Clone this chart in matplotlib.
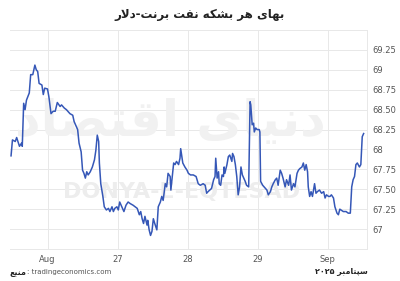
import matplotlib
matplotlib.use('Agg')
import matplotlib.pyplot as plt

# trading days: 0 = Aug 26, 1 = 27, 2 = 28, 3 = 29, 4 = Sep 1
days = [-0.52, -0.50, -0.46, -0.44, -0.40, -0.37, -0.36, -0.34, -0.32, -0.30,
        -0.26, -0.24, -0.21, -0.18, -0.16, -0.14, -0.12, -0.08, -0.06, -0.04,
        0.00, 0.02, 0.05, 0.08, 0.11, 0.14, 0.18, 0.20, 0.24, 0.27,
        0.32, 0.36, 0.38, 0.41, 0.43, 0.45, 0.48, 0.50, 0.52, 0.54,
        0.56, 0.58, 0.61, 0.64, 0.67, 0.69, 0.71, 0.73, 0.74, 0.76,
        0.79, 0.81, 0.84, 0.87, 0.89, 0.92, 0.94, 0.96, 0.99, 1.01,
        1.03, 1.06, 1.09, 1.12, 1.15, 1.18, 1.22, 1.25, 1.28, 1.31,
        1.33, 1.35, 1.37, 1.39, 1.42, 1.43, 1.45, 1.47, 1.49, 1.51,
        1.53, 1.56, 1.58, 1.61, 1.63, 1.65, 1.68, 1.70, 1.72, 1.75,
        1.76, 1.78, 1.80, 1.82, 1.84, 1.87, 1.89, 1.90, 1.93, 1.96,
        1.99, 2.01, 2.04, 2.08, 2.12, 2.15, 2.18, 2.22, 2.25, 2.27,
        2.29, 2.34, 2.37, 2.39, 2.40, 2.42, 2.44, 2.45, 2.47, 2.49,
        2.51, 2.52, 2.53, 2.56, 2.58, 2.60, 2.63, 2.64, 2.66, 2.68,
        2.70, 2.72, 2.74, 2.76, 2.78, 2.80, 2.82, 2.84, 2.87, 2.89,
        2.90, 2.92, 2.94, 2.95, 2.97, 2.99, 3.02, 3.03, 3.04, 3.07,
        3.09, 3.13, 3.15, 3.18, 3.20, 3.22, 3.25, 3.27, 3.29, 3.32,
        3.34, 3.36, 3.39, 3.41, 3.44, 3.46, 3.48, 3.51, 3.53, 3.56,
        3.58, 3.60, 3.63, 3.65, 3.67, 3.69, 3.71, 3.72, 3.74, 3.76,
        3.78, 3.81, 3.83, 3.85, 3.88, 3.91, 3.94, 3.96, 3.98, 4.01,
        4.03, 4.05, 4.08, 4.10, 4.13, 4.15, 4.17, 4.22, 4.26, 4.29,
        4.32, 4.34, 4.36, 4.38, 4.40, 4.42, 4.45, 4.47, 4.49, 4.51]
price = [67.92, 68.12, 68.10, 68.15, 68.04, 68.08, 68.04, 68.58, 68.50, 68.62,
         68.71, 68.94, 68.94, 69.06, 69.00, 68.98, 68.83, 68.81, 68.69, 68.77,
         68.76, 68.66, 68.45, 68.48, 68.48, 68.59, 68.54, 68.56, 68.52, 68.50,
         68.45, 68.43, 68.35, 68.29, 68.25, 68.08, 67.97, 67.74, 67.70, 67.64,
         67.72, 67.68, 67.72, 67.78, 67.87, 67.99, 68.18, 68.10, 67.83, 67.57,
         67.41, 67.28, 67.24, 67.26, 67.22, 67.28, 67.22, 67.26, 67.28, 67.24,
         67.34, 67.28, 67.22, 67.30, 67.34, 67.32, 67.30, 67.28, 67.26, 67.18,
         67.22, 67.13, 67.07, 67.16, 67.05, 67.11, 66.99, 66.92, 66.97, 67.13,
         67.07, 66.99, 67.28, 67.34, 67.41, 67.36, 67.57, 67.53, 67.70, 67.66,
         67.49, 67.66, 67.83, 67.81, 67.85, 67.81, 67.89, 68.01, 67.83, 67.78,
         67.74, 67.70, 67.68, 67.68, 67.66, 67.57, 67.55, 67.57, 67.55, 67.45,
         67.47, 67.51, 67.62, 67.66, 67.89, 67.64, 67.72, 67.57, 67.55, 67.68,
         67.66, 67.78, 67.70, 67.81, 67.91, 67.93, 67.85, 67.95, 67.91, 67.81,
         67.66, 67.43, 67.53, 67.78, 67.68, 67.64, 67.60, 67.55, 67.53, 68.60,
         68.56, 68.31, 68.33, 68.22, 68.27, 68.25, 68.25, 68.22, 67.60, 67.55,
         67.53, 67.49, 67.43, 67.47, 67.53, 67.57, 67.62, 67.64, 67.55, 67.74,
         67.70, 67.64, 67.53, 67.62, 67.55, 67.68, 67.49, 67.57, 67.53, 67.70,
         67.74, 67.76, 67.78, 67.83, 67.74, 67.81, 67.72, 67.53, 67.41, 67.47,
         67.41, 67.57, 67.45, 67.47, 67.49, 67.45, 67.47, 67.39, 67.43, 67.41,
         67.41, 67.43, 67.39, 67.28, 67.20, 67.18, 67.25, 67.22, 67.22, 67.20,
         67.20, 67.53, 67.62, 67.66, 67.81, 67.83, 67.78, 67.81, 68.16, 68.20]

x_ticks = [0, 1, 2, 3, 4]
x_labels = ['Aug', '27', '28', '29', 'Sep']
y_ticks = [67, 67.25, 67.5, 67.75, 68, 68.25, 68.5, 68.75, 69, 69.25]
y_labels = ['67', '67.25', '67.50', '67.75', '68', '68.25', '68.50', '68.75', '69', '69.25']

title_fa = 'بهای هر بشکه نفت برنت-دلار'
month_fa = 'سپتامبر'
year_fa = '۲۰۲۵'
source_fa = 'منبع'
logo_fa = 'دنیای اقتصاد'

# matplotlib has no arabic shaping, so join letters by hand
# (isolated, final, initial, medial)
FORMS = {
    'ا': ('\uFE8D', '\uFE8E', None, None),
    'ب': ('\uFE8F', '\uFE90', '\uFE91', '\uFE92'),
    'پ': ('\uFB56', '\uFB57', '\uFB58', '\uFB59'),
    'ت': ('\uFE95', '\uFE96', '\uFE97', '\uFE98'),
    'د': ('\uFEA9', '\uFEAA', None, None),
    'ر': ('\uFEAD', '\uFEAE', None, None),
    'س': ('\uFEB1', '\uFEB2', '\uFEB3', '\uFEB4'),
    'ش': ('\uFEB5', '\uFEB6', '\uFEB7', '\uFEB8'),
    'ص': ('\uFEB9', '\uFEBA', '\uFEBB', '\uFEBC'),
    'ع': ('\uFEC9', '\uFECA', '\uFECB', '\uFECC'),
    'ف': ('\uFED1', '\uFED2', '\uFED3', '\uFED4'),
    'ق': ('\uFED5', '\uFED6', '\uFED7', '\uFED8'),
    'ک': ('\uFB8E', '\uFB8F', '\uFB90', '\uFB91'),
    'ل': ('\uFEDD', '\uFEDE', '\uFEDF', '\uFEE0'),
    'م': ('\uFEE1', '\uFEE2', '\uFEE3', '\uFEE4'),
    'ن': ('\uFEE5', '\uFEE6', '\uFEE7', '\uFEE8'),
    'ه': ('\uFEE9', '\uFEEA', '\uFEEB', '\uFEEC'),
    'ی': ('\uFBFC', '\uFBFD', '\uFBFE', '\uFBFF'),
}


def fa(text):
    out = []
    i = 0
    while i < len(text):
        c = text[i]
        prev = text[i - 1] if i > 0 else ''
        nxt = text[i + 1] if i + 1 < len(text) else ''
        if c not in FORMS:
            out.append(c)
            i += 1
            continue
        join_prev = prev in FORMS and FORMS[prev][2] is not None
        if c == 'ل' and nxt == 'ا':
            out.append('\uFEFC' if join_prev else '\uFEFB')
            i += 2
            continue
        join_next = FORMS[c][2] is not None and nxt in FORMS
        if join_prev and join_next:
            out.append(FORMS[c][3])
        elif join_prev:
            out.append(FORMS[c][1])
        elif join_next:
            out.append(FORMS[c][2])
        else:
            out.append(FORMS[c][0])
        i += 1
    return ''.join(out)[::-1]


plt.rcParams['font.family'] = ['DejaVu Sans']

fig = plt.figure(figsize=(4, 2.81), dpi=100)
ax = fig.add_axes([0.025, 0.114, 0.8925, 0.779])

ax.plot(days, price, color='#3557b7', lw=1.1, zorder=3)

ax.set_xlim(-0.535, 4.558)
ax.set_ylim(66.75, 69.5)
ax.set_xticks(x_ticks)
ax.set_xticklabels(x_labels)
ax.set_yticks(y_ticks)
ax.set_yticklabels(y_labels)
ax.yaxis.tick_right()
ax.tick_params(axis='both', length=0, labelsize=6, labelcolor='#555555')
ax.tick_params(axis='y', pad=4)
ax.tick_params(axis='x', pad=4)
ax.grid(True, color='#e8e8e8', lw=0.7)
ax.set_axisbelow(True)
for s in ['top', 'right', 'bottom']:
    ax.spines[s].set_color('#e8e8e8')
    ax.spines[s].set_linewidth(0.7)
ax.spines['left'].set_visible(False)

# watermark
ax.text(0.45, 0.58, fa(logo_fa), transform=ax.transAxes, fontsize=36,
        color='#f1f1f1', ha='center', va='center', fontweight='bold', zorder=1)
ax.text(0.48, 0.26, 'DONYA-E-EQTESAD', transform=ax.transAxes, fontsize=16,
        color='#ededed', ha='center', va='center', fontweight='bold', zorder=1)

fig.text(0.5, 0.95, fa(title_fa), ha='center', va='center', fontsize=8.5,
         fontweight='bold', color='#222222')
fig.text(0.92, 0.035, year_fa + ' ' + fa(month_fa), ha='right', va='center',
         fontsize=5.8, fontweight='bold', color='#222222')
fig.text(0.025, 0.032, fa(source_fa), ha='left', va='center', fontsize=5.8,
         fontweight='bold', color='#222222')
fig.text(0.068, 0.032, ': tradingeconomics.com', ha='left', va='center',
         fontsize=5.0, color='#555555')

fig.savefig('out.png', dpi=100)
